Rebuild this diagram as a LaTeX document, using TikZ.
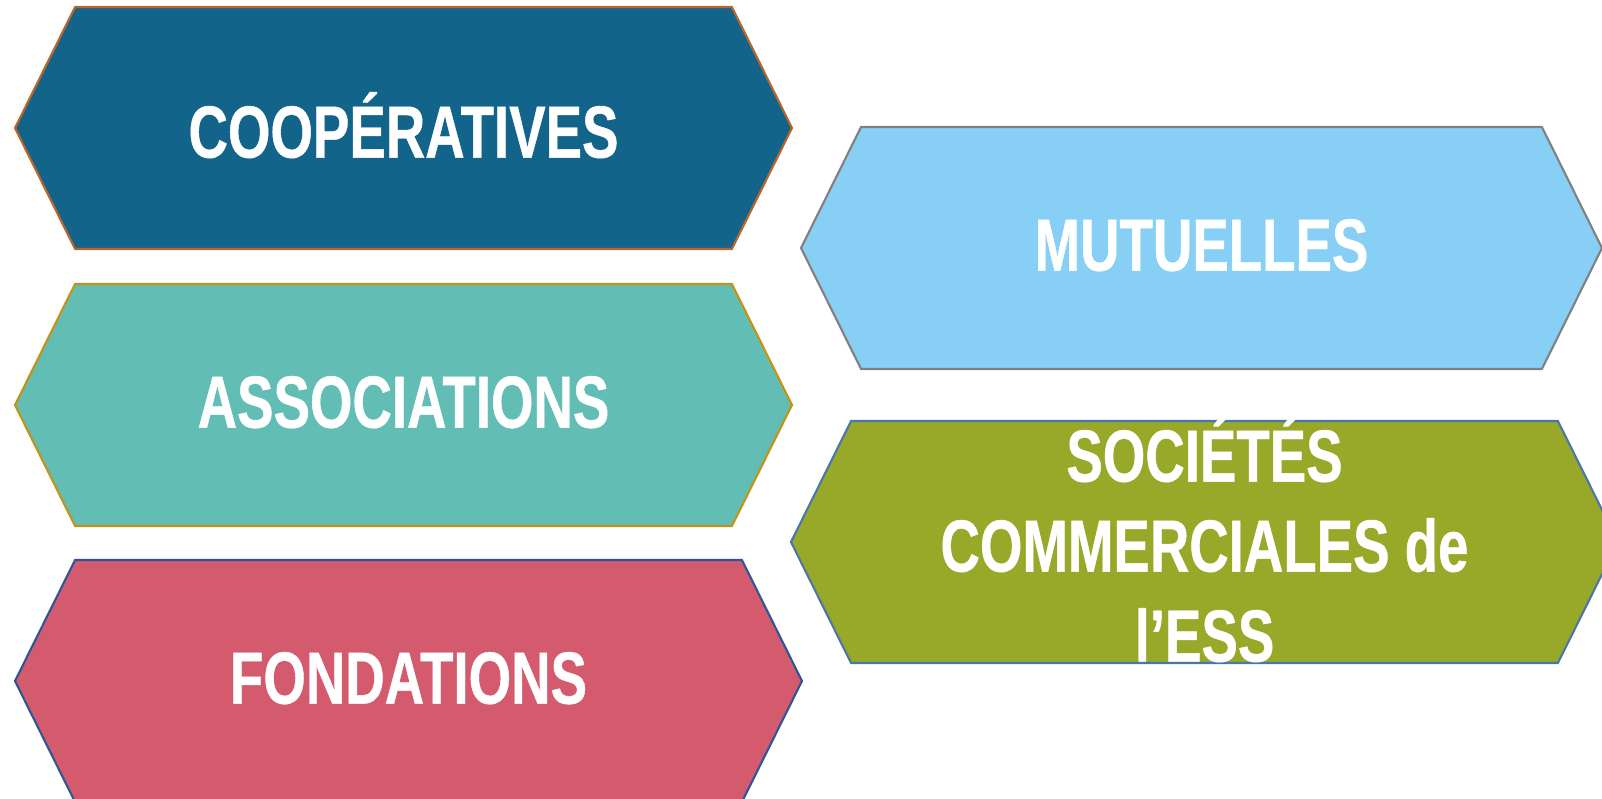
\documentclass[tikz,border=0pt]{standalone}
\usepackage{fontspec}
\usepackage{tikz}
\usetikzlibrary{shapes.symbols}
\newfontfamily\hexfont{Liberation Sans}[FakeStretch=0.74, FakeBold=0.6]
\definecolor{coopblue}{RGB}{19,100,138}
\definecolor{coopedge}{RGB}{190,100,40}
\definecolor{assoteal}{RGB}{98,190,181}
\definecolor{assoedge}{RGB}{196,146,20}
\definecolor{fondrose}{RGB}{212,91,110}
\definecolor{fondedge}{RGB}{47,85,151}
\definecolor{mutusky}{RGB}{135,207,245}
\definecolor{mutuedge}{RGB}{128,128,128}
\definecolor{socgreen}{RGB}{152,169,42}
\definecolor{socedge}{RGB}{74,118,168}

\begin{document}
\begin{tikzpicture}[
  x=0.1mm, y=-0.1mm,
  hexa/.style={signal, signal to=west and east, signal pointer angle=127.2,
               inner sep=0pt, outer sep=0pt, line width=0.6pt,
               minimum height=24.2mm},
  txt/.style={text=white, align=center, yshift=0.8pt,
              font=\hexfont\bfseries\fontsize{21}{25.6}\selectfont}
]
\useasboundingbox (0,0) rectangle (1602,798);

\node[hexa, fill=coopblue, draw=coopedge, minimum width=77.7mm,
      label={[txt]center:COOPÉRATIVES}] (coop) at (403.5,128) {};
\node[hexa, fill=assoteal, draw=assoedge, minimum width=77.7mm,
      label={[txt]center:ASSOCIATIONS}] (asso) at (403.5,405) {};
\node[hexa, fill=fondrose, draw=fondedge, minimum width=78.7mm,
      label={[txt]center:FONDATIONS}] (fond) at (408.5,681) {};

\node[hexa, fill=mutusky, draw=mutuedge, minimum width=80.1mm,
      label={[txt]center:MUTUELLES}] (mutu) at (1201.5,248) {};
\node[hexa, fill=socgreen, draw=socedge, minimum width=82.7mm,
      label={[txt]center:SOCIÉTÉS\\COMMERCIALES de\\l’ESS}] (soc) at (1204.5,542) {};

\end{tikzpicture}
\end{document}
